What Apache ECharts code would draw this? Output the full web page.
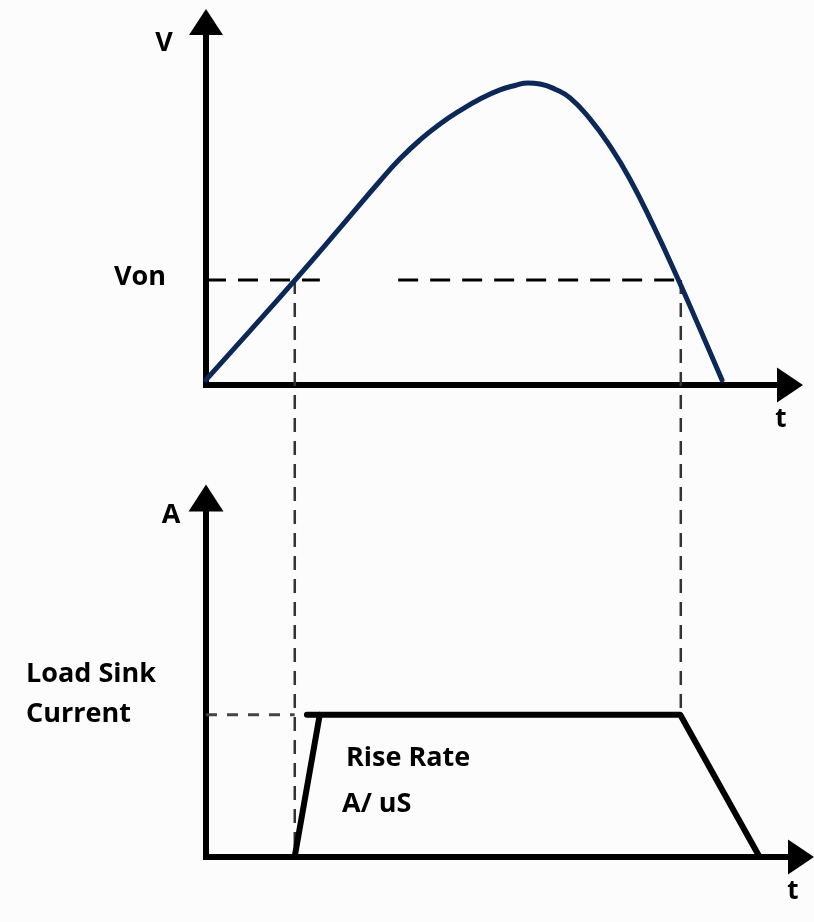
<!DOCTYPE html>
<html>
<head>
<meta charset="utf-8">
<style>
  html, body { margin: 0; padding: 0; background: #fcfcfc; }
  #chart { width: 814px; height: 922px; }
</style>
<script src="https://cdn.jsdelivr.net/npm/echarts@6.0.0/dist/echarts.min.js"></script>
</head>
<body>
<div id="chart"></div>
<script>
// 电压曲线 V(t)
const curveT = [0, 7.53, 15.24, 22.95, 29.79, 33.22, 36.64, 40.07, 43.49, 46.92, 50.34, 52.91, 55.14, 57.19, 59.76, 62.33, 65.75, 69.18, 72.6, 76.54, 80.82, 84.59, 88.36]
const curveV = [1.4, 14.9, 28.9, 43.3, 56.2, 62.3, 67.5, 71.9, 75.6, 78.8, 81.3, 82.5, 83.2, 82.9, 81.5, 79.1, 73.3, 65.8, 56.7, 44.1, 29.2, 15.4, 1.4]
const vOn = 28.9
const vOnStart = [0, 32.9]
const vOnEnd = [19.5, 81.2]
const guideT = [15.2, 81.3]

// 负载电流 A(t)
const riseT = [15.2, 19.5]
const riseA = [0, 39.6]
const loadT = [17.3, 81.3, 94.9]
const loadA = [39.6, 39.6, 0]
const sinkLevel = 39.6

const chart = echarts.init(document.getElementById('chart'))

const zip = (xs, ys) => xs.map((x, i) => [x, ys[i]])

const axisLine = (size) => ({
  show: true,
  onZero: false,
  symbol: ['none', 'triangle'],
  symbolSize: size,
  lineStyle: { color: '#000', width: 6, cap: 'square' }
})

const hidden = {
  axisTick: { show: false },
  axisLabel: { show: false },
  splitLine: { show: false }
}

const lineSeries = (data, opt) => Object.assign({
  type: 'line',
  data: data,
  symbol: 'none',
  silent: true,
  animation: false
}, opt)

const dashed = (color, width, dash) => ({ color: color, width: width, type: dash })

const label = (text, x, y, size, align) => ({
  type: 'text',
  x: x,
  y: y,
  style: {
    text: text,
    font: 'bold ' + size + 'px "Open Sans"',
    fill: '#000',
    textAlign: align || 'center',
    textVerticalAlign: 'middle'
  }
})

const option = {
  backgroundColor: '#fcfcfc',
  grid: [
    { left: 206, width: 584, top: 22, height: 363 },
    { left: 206, width: 595, top: 498, height: 359 }
  ],
  xAxis: [
    Object.assign({ type: 'value', gridIndex: 0, min: 0, max: 100, axisLine: axisLine([35, 26]) }, hidden),
    Object.assign({ type: 'value', gridIndex: 1, min: 0, max: 102, axisLine: axisLine([35, 26]) }, hidden)
  ],
  yAxis: [
    Object.assign({ type: 'value', gridIndex: 0, min: 0, max: 100, axisLine: axisLine([34, 26]) }, hidden),
    Object.assign({ type: 'value', gridIndex: 1, min: 0, max: 100, axisLine: axisLine([35, 27]) }, hidden)
  ],
  series: [
    // Von 虚线
    lineSeries([[vOnStart[0], vOn], [vOnEnd[0], vOn]], { xAxisIndex: 0, yAxisIndex: 0, lineStyle: dashed('#000', 3, [20, 12]) }),
    lineSeries([[vOnStart[1], vOn], [vOnEnd[1], vOn]], { xAxisIndex: 0, yAxisIndex: 0, lineStyle: dashed('#000', 3, [20, 12]) }),
    // 竖直引导虚线，下端在 setOption 后换算
    lineSeries([[guideT[0], vOn], [guideT[0], 0]], { id: 'guideL', xAxisIndex: 0, yAxisIndex: 0, clip: false, lineStyle: dashed('#333', 2.5, [14, 9]) }),
    lineSeries([[guideT[1], vOn], [guideT[1], 0]], { id: 'guideR', xAxisIndex: 0, yAxisIndex: 0, clip: false, lineStyle: dashed('#333', 2.5, [14, 9]) }),
    // V 曲线
    lineSeries(zip(curveT, curveV), {
      xAxisIndex: 0, yAxisIndex: 0, smooth: 0.5,
      lineStyle: { color: '#0b2858', width: 5, cap: 'round' }
    }),
    // Load Sink Current 虚线
    lineSeries([[0, sinkLevel], [guideT[0], sinkLevel]], { xAxisIndex: 1, yAxisIndex: 1, lineStyle: dashed('#444', 3, [11, 10]) }),
    // 电流梯形
    lineSeries(zip(riseT, riseA), { xAxisIndex: 1, yAxisIndex: 1, lineStyle: { color: '#000', width: 6, cap: 'round' } }),
    lineSeries(zip(loadT, loadA), { xAxisIndex: 1, yAxisIndex: 1, lineStyle: { color: '#000', width: 6, cap: 'round', join: 'round' } })
  ],
  graphic: [
    label('V', 164, 43, 27),
    label('Von', 140, 277, 27),
    label('t', 781, 420, 26),
    label('A', 171, 515, 27),
    label('Load Sink', 26, 674, 27, 'left'),
    label('Current', 26, 714, 27, 'left'),
    label('Rise Rate', 346, 758, 27, 'left'),
    label('A/ uS', 342, 804, 27, 'left'),
    label('t', 793, 892, 26)
  ]
}

chart.setOption(option)

// 用两个坐标系的换算求引导线的下端
const toTop = (t, a) => chart.convertFromPixel({ gridIndex: 0 }, chart.convertToPixel({ gridIndex: 1 }, [t, a]))[1]
chart.setOption({
  series: [
    { id: 'guideL', data: [[guideT[0], vOn], [guideT[0], toTop(guideT[0], 0)]] },
    { id: 'guideR', data: [[guideT[1], vOn], [guideT[1], toTop(guideT[1], sinkLevel)]] }
  ]
})
</script>
</body>
</html>
